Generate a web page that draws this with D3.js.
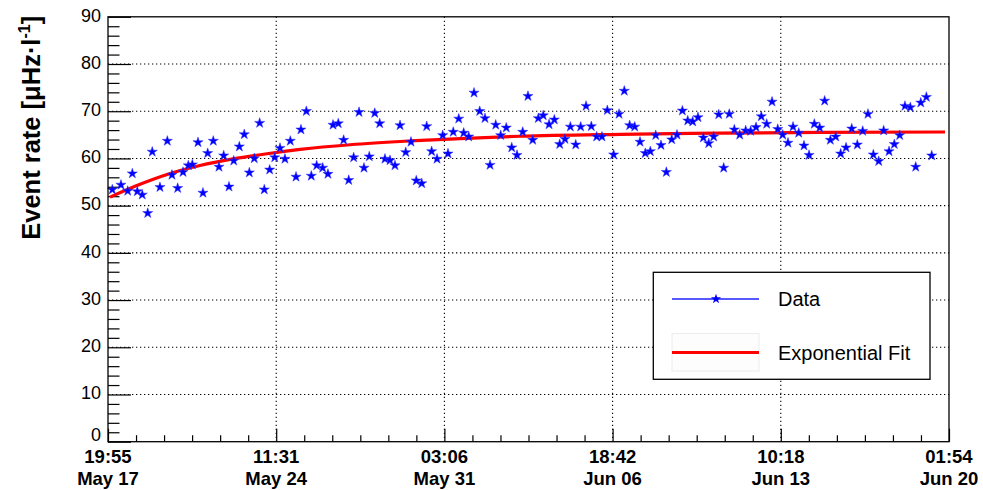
<!DOCTYPE html>
<html>
<head>
<meta charset="utf-8">
<script src="https://cdn.jsdelivr.net/npm/d3@7"></script>
<style>
  html, body { margin: 0; padding: 0; background: #fff; }
  svg { display: block; font-family: "Liberation Sans", Arial, sans-serif; }
</style>
</head>
<body>
<svg id="chart" width="983" height="490"></svg>
<script>
// ---------------- DATA ----------------
// time axis: hours elapsed since 19:55 May 17
const spanHours = 797.99;
const xTickTime = ["19:55", "11:31", "03:06", "18:42", "10:18", "01:54"];
const xTickDate = ["May 17", "May 24", "May 31", "Jun 06", "Jun 13", "Jun 20"];
const yTicks = [0, 10, 20, 30, 40, 50, 60, 70, 80, 90];

// measured event rate points
const dataHours = [
  4.1, 12.3, 18.7, 23.1, 27.8, 32.5, 37.7, 42.0, 49.3, 56.3,
  60.7, 66.1, 71.2, 76.2, 80.0, 85.4, 90.1, 94.6, 99.9, 105.3,
  109.8, 114.8, 119.3, 124.6, 129.3, 134.1, 138.8, 143.9, 148.3, 153.4,
  158.2, 163.2, 167.9, 173.0, 178.4, 183.1, 188.2, 192.9, 198.0, 203.7,
  208.7, 213.5, 218.5, 223.6, 228.4, 233.1, 238.2, 242.9, 247.9, 253.1,
  257.8, 262.8, 267.6, 272.3, 277.1, 282.5, 287.5, 292.5, 297.7, 302.4,
  307.1, 312.2, 317.6, 322.6, 327.6, 332.8, 337.5, 342.3, 347.3, 352.7,
  357.7, 362.5, 367.9, 372.6, 377.9, 383.1, 388.1, 393.5, 398.5, 403.0,
  408.3, 413.0, 418.5, 423.5, 428.6, 433.6, 438.7, 443.8, 448.5, 453.6,
  458.6, 463.7, 468.7, 473.8, 479.8, 484.9, 489.9, 495.0, 499.8, 504.8,
  509.8, 514.6, 519.7, 524.7, 529.8, 534.9, 539.9, 545.0, 550.1, 554.8,
  559.8, 564.9, 570.0, 574.7, 579.5, 584.2, 589.5, 594.3, 599.4, 605.1,
  609.8, 614.9, 619.9, 625.0, 630.1, 635.5, 640.2, 645.2, 650.0, 655.4,
  660.4, 665.2, 670.2, 675.3, 680.0, 685.4, 690.5, 695.2, 700.3, 705.7,
  711.0, 716.1, 721.1, 726.2, 731.3, 736.0, 741.1, 746.1, 751.2, 756.2,
  761.3, 766.4, 771.2, 776.5, 781.6
];
const dataRate = [
  53.4, 54.4, 53.1, 56.8, 53.0, 52.3, 48.4, 61.4, 53.9, 63.7,
  56.5, 53.7, 57.1, 58.5, 58.7, 63.4, 52.7, 61.1, 63.7, 58.2,
  60.6, 54.0, 59.5, 62.5, 65.1, 57.0, 60.0, 67.5, 53.4, 57.6,
  60.2, 62.2, 59.9, 63.7, 56.1, 66.1, 70.0, 56.3, 58.5, 58.0,
  56.7, 67.1, 67.4, 63.9, 55.4, 60.2, 69.8, 58.0, 60.4, 69.6,
  67.4, 59.9, 59.6, 58.5, 67.0, 61.3, 63.5, 55.3, 54.7, 66.8,
  61.5, 59.9, 64.9, 61.0, 65.6, 68.4, 65.4, 64.6, 73.9, 70.0,
  68.5, 58.6, 67.1, 64.9, 66.5, 62.3, 60.7, 65.6, 73.2, 63.9,
  68.5, 69.1, 67.2, 68.2, 63.0, 64.1, 66.7, 62.9, 66.7, 71.1,
  66.8, 64.6, 64.6, 70.2, 60.8, 69.4, 74.3, 67.0, 66.7, 63.5,
  61.1, 61.5, 64.9, 62.8, 57.1, 64.0, 65.0, 70.1, 68.0, 67.8,
  68.7, 64.4, 63.2, 64.6, 69.3, 58.0, 69.4, 66.1, 65.0, 65.9,
  65.8, 66.6, 68.9, 67.3, 72.0, 66.2, 65.0, 63.3, 66.7, 65.4,
  62.7, 60.7, 67.3, 66.5, 72.2, 63.9, 64.6, 61.0, 62.3, 66.3,
  62.9, 65.8, 69.4, 60.8, 59.4, 65.9, 61.5, 63.0, 64.9, 71.1,
  70.8, 58.2, 71.8, 73.0, 60.6
];

// exponential fit curve
const fitHours = [1.9, 25.6, 56.0, 87.3, 118.6, 150.9, 182.2, 229.6, 286.6, 334.0, 390.9, 485.8, 580.7, 675.6, 794.2];
const fitRate  = [51.8, 54.1, 56.6, 58.5, 59.9, 61.0, 61.9, 62.9, 63.7, 64.2, 64.7, 65.1, 65.35, 65.5, 65.6];

const legendLabels = ["Data", "Exponential Fit"];

// ---------------- CHART ----------------
const svg = d3.select("#chart");
const L = 108, R = 949, T = 16.8, B = 441.7;

const x = d3.scaleLinear().domain([0, spanHours]).range([L, R]);
const y = d3.scaleLinear().domain([0, 90]).range([B, T]);

const xMajor = d3.range(6).map(i => i * spanHours / 5);
const xMinor = d3.range(31).map(i => i * spanHours / 30).filter((d, i) => i % 6 !== 0);
const yMinor = d3.range(0, 91, 2).filter(d => d % 10 !== 0);

// grid
const grid = svg.append("g").attr("stroke", "#000").attr("stroke-width", 1.1)
  .attr("stroke-dasharray", "1.3,2.7").attr("fill", "none");
grid.selectAll("line.gx").data(xMajor.slice(1, -1)).join("line")
  .attr("x1", d => x(d)).attr("x2", d => x(d)).attr("y1", T).attr("y2", B);
grid.selectAll("line.gy").data(yTicks.slice(1, -1)).join("line")
  .attr("x1", L).attr("x2", R).attr("y1", d => y(d)).attr("y2", d => y(d));

// y axis ticks (inside)
const yAxMaj = svg.append("g").attr("transform", `translate(${L},0)`)
  .call(d3.axisRight(y).tickValues(yTicks).tickSize(23).tickFormat(""));
const yAxMin = svg.append("g").attr("transform", `translate(${L},0)`)
  .call(d3.axisRight(y).tickValues(yMinor).tickSize(11.5).tickFormat(""));
const yLab = svg.append("g").attr("transform", `translate(${L},0)`)
  .call(d3.axisLeft(y).tickValues(yTicks).tickSize(0).tickPadding(7));
yLab.select(".domain").remove();
yLab.selectAll("text").attr("font-size", 18).attr("font-family", "Liberation Sans, Arial, sans-serif")
  .attr("fill", "#000").attr("dy", d => d === 0 ? "-0.05em" : "0.24em");

// x axis ticks (inside)
const xAxMaj = svg.append("g").attr("transform", `translate(0,${B})`)
  .call(d3.axisTop(x).tickValues(xMajor).tickSize(13).tickFormat(""));
const xAxMin = svg.append("g").attr("transform", `translate(0,${B})`)
  .call(d3.axisTop(x).tickValues(xMinor).tickSize(6.5).tickFormat(""));
[yAxMaj, yAxMin, xAxMaj, xAxMin].forEach(g => {
  g.select(".domain").remove();
  g.selectAll("line").attr("stroke", "#000").attr("stroke-width", 1.2);
});

// x labels
const xl = svg.append("g").attr("font-weight", "bold").attr("font-size", 18.5)
  .attr("text-anchor", "middle").attr("fill", "#000");
xl.selectAll("text.t").data(xMajor).join("text")
  .attr("x", d => x(d)).attr("y", 463).text((d, i) => xTickTime[i]);
xl.selectAll("text.d").data(xMajor).join("text")
  .attr("x", d => x(d)).attr("y", 485).text((d, i) => xTickDate[i]);

// y title
const yt = svg.append("text")
  .attr("transform", `translate(40,${T - 1}) rotate(-90)`)
  .attr("text-anchor", "end").attr("font-weight", "bold").attr("font-size", 25.5).attr("fill", "#000");
yt.append("tspan").text("Event rate [\u03BCHz\u00B7l");
yt.append("tspan").attr("font-size", 16).attr("dy", -10).text("-1");
yt.append("tspan").attr("dy", 10).text("]");

// fit curve
const fitData = fitHours.map((h, i) => [h, fitRate[i]]);
svg.append("path").datum(fitData)
  .attr("fill", "none").attr("stroke", "#ff0000").attr("stroke-width", 3.2)
  .attr("d", d3.line().x(d => x(d[0])).y(d => y(d[1])).curve(d3.curveMonotoneX));

// data stars
const star = d3.symbol().type(d3.symbolStar).size(32);
svg.append("g").selectAll("path").data(dataHours.map((h, i) => [h, dataRate[i]])).join("path")
  .attr("transform", d => `translate(${x(d[0])},${y(d[1])})`)
  .attr("d", star).attr("fill", "#0000ff").attr("stroke", "#3030ff").attr("stroke-width", 0.5);

// frame
svg.append("rect").attr("x", L).attr("y", T).attr("width", R - L).attr("height", B - T)
  .attr("fill", "none").attr("stroke", "#000").attr("stroke-width", 1.3);

// legend
const lg = svg.append("g");
lg.append("rect").attr("x", 653.3).attr("y", 272.3).attr("width", 276.7).attr("height", 107)
  .attr("fill", "#fff").attr("stroke", "#000").attr("stroke-width", 1.3);
lg.append("line").attr("x1", 672).attr("x2", 759).attr("y1", 299).attr("y2", 299)
  .attr("stroke", "#2020ff").attr("stroke-width", 1.4);
lg.append("path").attr("transform", "translate(716,299)").attr("d", star).attr("fill", "#0000ff");
lg.append("rect").attr("x", 672).attr("y", 333.5).attr("width", 87).attr("height", 37.5)
  .attr("fill", "#fdfdfd").attr("stroke", "#ececec").attr("stroke-width", 1);
lg.append("line").attr("x1", 672).attr("x2", 759).attr("y1", 352.5).attr("y2", 352.5)
  .attr("stroke", "#ff0000").attr("stroke-width", 3);
lg.selectAll("text").data(legendLabels).join("text")
  .attr("x", 778).attr("y", (d, i) => i === 0 ? 306 : 360)
  .attr("font-size", 20).attr("fill", "#000").text(d => d);
</script>
</body>
</html>
